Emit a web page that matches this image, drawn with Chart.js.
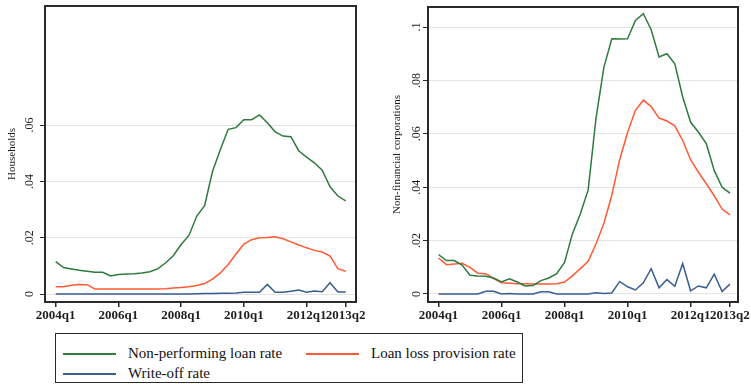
<!DOCTYPE html>
<html>
<head>
<meta charset="utf-8">
<script src="https://cdn.jsdelivr.net/npm/chart.js@4.4.1/dist/chart.umd.min.js"></script>
<style>
  body { margin: 0; background: #fff; }
  #wrap { position: relative; width: 751px; height: 384px; overflow: hidden; background: #fff; font-family: "Liberation Serif", serif; }
  canvas { position: absolute; top: 0; }
  #hh { left: 0; }
  #nfc { left: 375px; }
  #legend { position: absolute; left: 55px; top: 333px; width: 466px; height: 48px; border: 1px solid #2a2a2a; }
  #legend .item { position: absolute; height: 18px; line-height: 18px; font-size: 15px; color: #111; white-space: nowrap; }
  #legend .swatch { position: absolute; left: 0; top: 9px; width: 53px; height: 1.5px; }
  #legend .text { position: absolute; left: 65px; top: 0; }
</style>
</head>
<body>
<div id="wrap">
  <canvas id="hh" width="375" height="322"></canvas>
  <canvas id="nfc" width="380" height="322"></canvas>
  <div id="legend"></div>
</div>
<script>
// quarters 2004q1 .. 2013q2
const quarters = [];
for (let yr = 2004; yr <= 2013; yr++) {
  for (let q = 1; q <= 4; q++) {
    if (yr === 2013 && q > 2) break;
    quarters.push(yr + 'q' + q);
  }
}
const xTickLabels = ['2004q1', '2006q1', '2008q1', '2010q1', '2012q1', '2013q2'];

const seriesNames = ['Non-performing loan rate', 'Loan loss provision rate', 'Write-off rate'];

// households
const hhNpl = [0.0115, 0.0094, 0.0089, 0.0084, 0.0081, 0.0077, 0.0077, 0.0064, 0.0069, 0.0071,
  0.0072, 0.0075, 0.0079, 0.0089, 0.0110, 0.0136, 0.0176, 0.0208, 0.0277, 0.0314,
  0.0435, 0.0512, 0.0585, 0.0591, 0.0619, 0.0619, 0.0636, 0.0608, 0.0576, 0.0561,
  0.0559, 0.0509, 0.0486, 0.0466, 0.0440, 0.0381, 0.0348, 0.0331];
const hhLlp = [0.0026, 0.0026, 0.0031, 0.0034, 0.0033, 0.0018, 0.0018, 0.0018, 0.0018, 0.0018,
  0.0018, 0.0018, 0.0018, 0.0018, 0.0019, 0.0021, 0.0023, 0.0026, 0.0030, 0.0037,
  0.0053, 0.0075, 0.0105, 0.0142, 0.0177, 0.0193, 0.0200, 0.0201, 0.0203, 0.0196,
  0.0185, 0.0174, 0.0164, 0.0155, 0.0149, 0.0135, 0.0090, 0.0081];
const hhWo = [0, 0, 0, 0, 0, 0, 0, 0, 0, 0,
  0, 0, 0, 0, 0, 0, 0, 0, 0.0001, 0.0002,
  0.0002, 0.0003, 0.0003, 0.0004, 0.0006, 0.0006, 0.0006, 0.0034, 0.0006, 0.0006,
  0.0010, 0.0014, 0.0006, 0.0011, 0.0008, 0.0040, 0.0007, 0.0007];
const hhYTicks = [0, 0.02, 0.04, 0.06];

// non-financial corporations
const nfcNpl = [0.0148, 0.0125, 0.0125, 0.0108, 0.0070, 0.0067, 0.0066, 0.0060, 0.0045, 0.0057,
  0.0045, 0.0030, 0.0032, 0.0050, 0.0060, 0.0076, 0.0118, 0.0225, 0.0300, 0.0390,
  0.0660, 0.0850, 0.0956, 0.0955, 0.0956, 0.1025, 0.1050, 0.0990, 0.0888, 0.0900,
  0.0862, 0.0738, 0.0644, 0.0606, 0.0563, 0.0463, 0.0400, 0.0378];
const nfcLlp = [0.0135, 0.0110, 0.0112, 0.0115, 0.0100, 0.0078, 0.0076, 0.0058, 0.0042, 0.0040,
  0.0038, 0.0038, 0.0037, 0.0037, 0.0037, 0.0038, 0.0045, 0.0068, 0.0095, 0.0122,
  0.0188, 0.0265, 0.0370, 0.0503, 0.0605, 0.0688, 0.0726, 0.0702, 0.0659, 0.0648,
  0.0630, 0.0575, 0.0503, 0.0456, 0.0413, 0.0368, 0.0318, 0.0296];
const nfcWo = [0, 0, 0, 0, 0, 0, 0.0010, 0.0010, 0, 0.0002,
  0, 0, 0, 0.0008, 0.0008, 0, 0, 0, 0, 0,
  0.0005, 0.0002, 0.0004, 0.0047, 0.0027, 0.0015, 0.0042, 0.0095, 0.0023, 0.0054,
  0.0029, 0.0114, 0.0012, 0.0030, 0.0023, 0.0074, 0.0009, 0.0037];
const nfcYTicks = [0, 0.02, 0.04, 0.06, 0.08, 0.1];

const colors = ['#2f7a3c', '#ff5a36', '#3a5d92'];
const frameColor = '#2a2a2a';
const textColor = '#1e1e1e';

// Stata style labels: 0, .02, .1
function stataNum(v) {
  if (v === 0) return '0';
  return String(+v.toFixed(3)).replace(/^0\./, '.');
}

function points(arr) {
  return arr.map((v, i) => ({ x: i, y: v }));
}

// box around the plot region and vertical y tick labels
const stataFrame = {
  id: 'stataFrame',
  afterDraw(chart, args, opts) {
    const { ctx, chartArea: a } = chart;
    const ys = chart.scales.y;
    ctx.save();
    ctx.strokeStyle = frameColor;
    ctx.lineWidth = 2;
    ctx.strokeRect(a.left, a.top, a.right - a.left, a.bottom - a.top);
    ctx.fillStyle = textColor;
    ctx.font = '12px "Liberation Serif"';
    ctx.textAlign = 'center';
    ctx.textBaseline = 'middle';
    ys.ticks.forEach(t => {
      ctx.save();
      ctx.translate(a.left - opts.gap, ys.getPixelForValue(t.value));
      ctx.rotate(-Math.PI / 2);
      ctx.fillText(t.label, 0, 0);
      ctx.restore();
    });
    ctx.restore();
  }
};

function makeChart(id, title, npl, llp, wo, yTicks, cfg) {
  const series = [npl, llp, wo];
  return new Chart(document.getElementById(id), {
    type: 'line',
    data: {
      datasets: series.map((s, i) => ({
        label: seriesNames[i],
        data: points(s),
        borderColor: colors[i],
        borderWidth: 1.5,
        pointRadius: 0,
        tension: 0,
        fill: false
      }))
    },
    options: {
      responsive: false,
      animation: false,
      layout: { padding: { top: cfg.top, right: cfg.right, bottom: 0, left: 0 } },
      plugins: {
        legend: { display: false },
        tooltip: { enabled: false },
        stataFrame: { gap: cfg.gap }
      },
      scales: {
        x: {
          type: 'linear',
          min: cfg.xmin,
          max: cfg.xmax,
          border: { display: false },
          grid: { drawOnChartArea: false, tickLength: 5, tickColor: frameColor, lineWidth: 1.5 },
          afterBuildTicks: s => { s.ticks = xTickLabels.map(l => ({ value: quarters.indexOf(l) })); },
          afterFit: s => { s.height = 20; },
          ticks: {
            autoSkip: false,
            maxRotation: 0,
            padding: 1,
            color: textColor,
            font: { family: 'Liberation Serif', size: 13, weight: 'bold' },
            callback: v => quarters[v]
          }
        },
        y: {
          min: cfg.ymin,
          max: cfg.ymax,
          border: { display: false },
          grid: { color: '#e4e4e4', lineWidth: 1, tickLength: 5, tickColor: frameColor },
          afterBuildTicks: s => { s.ticks = yTicks.map(v => ({ value: v })); },
          afterFit: s => { s.width = cfg.yw; },
          ticks: { display: false, callback: v => stataNum(v) },
          title: {
            display: true,
            text: title,
            color: textColor,
            font: { family: 'Liberation Serif', size: 11 },
            padding: { top: cfg.tpad, bottom: 0 }
          }
        }
      }
    },
    plugins: [stataFrame]
  });
}

makeChart('hh', 'Households', hhNpl, hhLlp, hhWo, hhYTicks,
  { top: 6, right: 19, yw: 45, gap: 15, tpad: 6, xmin: -1.365, xmax: 38.31, ymin: -0.00284, ymax: 0.1023 });
makeChart('nfc', 'Non-financial corporations', nfcNpl, nfcLlp, nfcWo, nfcYTicks,
  { top: 7, right: 17, yw: 53, gap: 11.5, tpad: 16, xmin: -1.333, xmax: 38.02, ymin: -0.003, ymax: 0.1075 });

// shared legend under both panels
const legend = document.getElementById('legend');
seriesNames.forEach((name, i) => {
  const item = document.createElement('div');
  item.className = 'item';
  item.style.left = (7 + (i % 2) * 243) + 'px';
  item.style.top = (10 + Math.floor(i / 2) * 20) + 'px';
  item.innerHTML = '<span class="swatch" style="background:' + colors[i] + '"></span><span class="text"></span>';
  item.querySelector('.text').textContent = name;
  legend.appendChild(item);
});
</script>
</body>
</html>
